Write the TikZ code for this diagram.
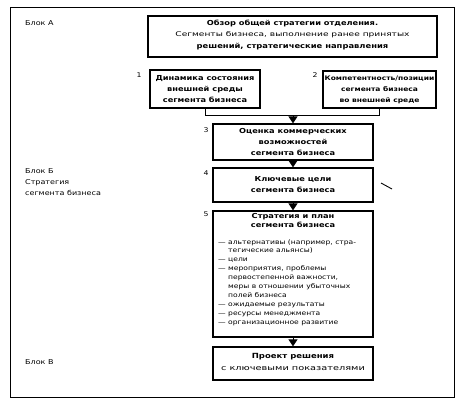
\documentclass[tikz,border=0pt]{standalone}
\usepackage{fontspec}
\setmainfont{DejaVu Sans}[FakeStretch=1.2]
\newfontfamily\widest{DejaVu Sans}[FakeStretch=1.4]
\usetikzlibrary{arrows.meta}
\begin{document}
\begin{tikzpicture}[x=1bp,y=-1bp,
  box/.style={draw,line width=1.3bp,inner sep=0pt,align=center},
  conn/.style={line width=0.9bp},
  arr/.style={line width=0.9bp,-{Triangle[width=9bp,length=7bp]}},
  lbl/.style={font=\fontsize{6.7}{11.5}\selectfont,anchor=north west,align=left,inner sep=0pt},
  num/.style={font=\fontsize{6.5}{7}\selectfont,inner sep=0pt},
  bt/.style={font=\bfseries\fontsize{6.9}{11}\selectfont},
  item/.style={font=\fontsize{6.35}{9}\selectfont,anchor=north west,align=left,inner sep=0pt}
]
\useasboundingbox (0,0) rectangle (469,405);
% outer frame
\draw[line width=0.9bp] (10,7) rectangle (454,397);
% block labels
\node[lbl] (blA) at (25,20) {Блок А};
\node[lbl] (blB) at (25,168) {Блок Б\\Стратегия\\сегмента бизнеса};
\node[lbl] (blV) at (25,359) {Блок В};
% top box
\node[box,minimum width=289bp,minimum height=41bp] (top) at (292.5,36.5) {};
\node[inner sep=0pt,font=\bfseries\fontsize{6.9}{9}\selectfont] (t1) at (292.5,23) {Обзор общей стратегии отделения.};
\node[inner sep=0pt,font=\widest\fontsize{6.5}{8}\selectfont] (t2) at (292.5,35) {Сегменты бизнеса, выполнение ранее принятых};
\node[inner sep=0pt,font=\bfseries\fontsize{7}{9}\selectfont] (t3) at (292.5,47) {решений, стратегические направления};
% box 1 and 2
\node[box,bt,minimum width=110bp,minimum height=38bp] (b1) at (205,89) {Динамика состояния\\внешней среды\\сегмента бизнеса};
\node[num] (n1) at (139,75) {1};
\node[box,bt,font=\bfseries\fontsize{6.3}{11}\selectfont,minimum width=113bp,minimum height=37bp] (b2) at (379.5,89.5) {Компетентность/позиции\\сегмента бизнеса\\во внешней среде};
\node[num] (n2) at (315,75) {2};
% box 3
\node[box,bt,minimum width=160bp,minimum height=36bp] (b3) at (293,142) {Оценка коммерческих\\возможностей\\сегмента бизнеса};
\node[num] (n3) at (206,130) {3};
% box 4
\node[box,bt,minimum width=160bp,minimum height=34bp] (b4) at (293,185) {Ключевые цели\\сегмента бизнеса};
\node[num] (n4) at (206,173) {4};
% box 5
\node[box,minimum width=160bp,minimum height=126bp] (b5) at (293,274) {};
\node[num] (n5) at (206,214) {5};
\node[bt,font=\bfseries\fontsize{6.9}{10}\selectfont,inner sep=0pt,align=center] (b5t) at (293,220.5) {Стратегия и план\\сегмента бизнеса};
\node[item] (b5l) at (218,239) {--- альтернативы (например, стра-\\
\phantom{--- }тегические альянсы)\\
--- цели\\
--- мероприятия, проблемы\\
\phantom{--- }первостепенной важности,\\
\phantom{--- }меры в отношении убыточных\\
\phantom{--- }полей бизнеса\\
--- ожидаемые результаты\\
--- ресурсы менеджмента\\
--- организационное развитие};
% box 6
\node[box,minimum width=160bp,minimum height=33bp] (b6) at (293,363.5) {};
\node[inner sep=0pt,font=\bfseries\fontsize{7.1}{9}\selectfont] (b6a) at (293,357) {Проект решения};
\node[inner sep=0pt,font=\widest\fontsize{7}{9}\selectfont] (b6b) at (293,369) {с ключевыми показателями};
% connectors
\coordinate (j) at (293,115);
\draw[conn] (b1.south) -- (b1.south |- j) -- (b2.south |- j) -- (b2.south);
\draw[arr] (j) -- (b3.north);
\draw[arr] (b3.south) -- (b4.north);
\draw[arr] (b4.south) -- (b5.north);
\draw[arr] (b5.south) -- (b6.north);
% stray mark
\draw[line width=0.9bp] (381,183) -- (392,189);
\end{tikzpicture}
\end{document}
